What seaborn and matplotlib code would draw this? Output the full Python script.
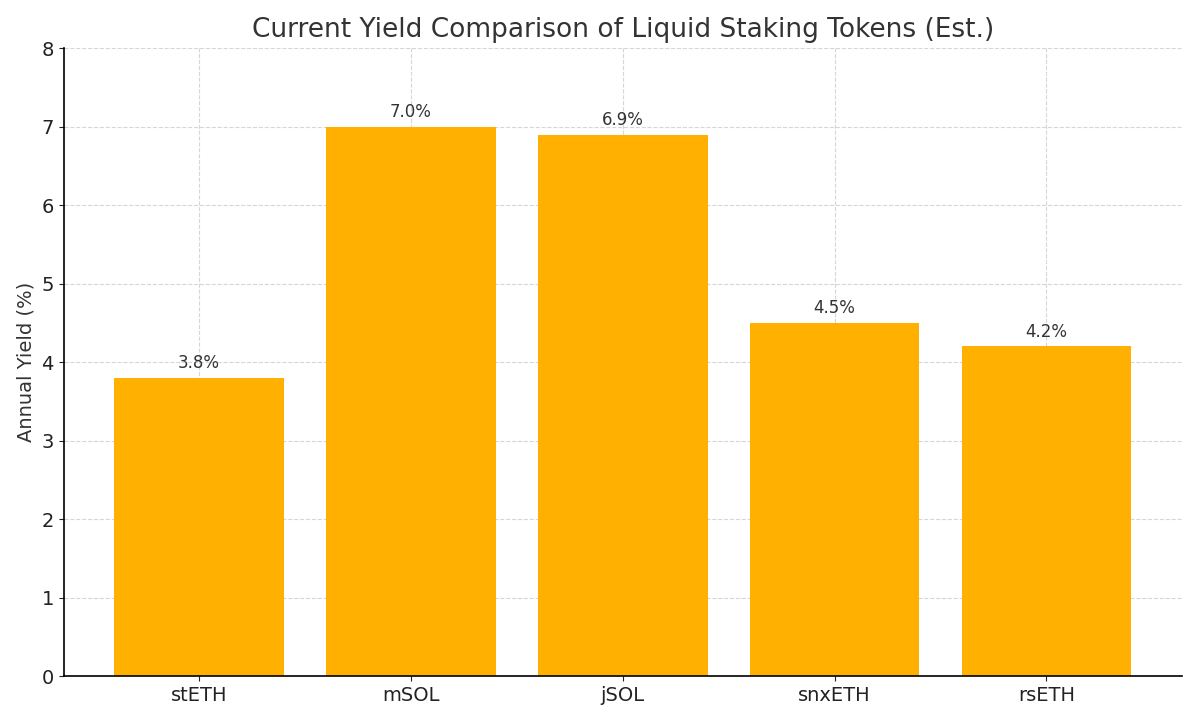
import matplotlib
matplotlib.use('Agg')
import matplotlib.pyplot as plt
import pandas as pd
import seaborn as sns

# Chart data
tokens = ['stETH', 'mSOL', 'jSOL', 'snxETH', 'rsETH']
yields = [3.8, 7.0, 6.9, 4.5, 4.2]

df = pd.DataFrame({'Token': tokens, 'Yield': yields})

sns.set_style('ticks')
plt.rcParams['font.family'] = ['DejaVu Sans']

fig, ax = plt.subplots(figsize=(12, 7.2), dpi=100)
sns.barplot(data=df, x='Token', y='Yield', color='#FFB000', saturation=1,
            width=0.8, linewidth=0, ax=ax)

# value labels above bars
for i, v in enumerate(yields):
    ax.text(i, v + 0.07, f'{v:.1f}%', ha='center', va='bottom',
            fontsize=12, color='#333333')

ax.set_ylim(0, 8)
ax.set_xlim(-0.64, len(tokens) - 1 + 0.64)
ax.set_title('Current Yield Comparison of Liquid Staking Tokens (Est.)',
             fontsize=19, color='#333333', pad=8)
ax.set_xlabel('')
ax.set_ylabel('Annual Yield (%)', fontsize=14, color='#333333')
ax.tick_params(axis='both', labelsize=14, colors='#222222')
ax.grid(True, linestyle='--', color='#cccccc', linewidth=0.8, alpha=0.8)
ax.set_axisbelow(True)
sns.despine(ax=ax)
for s in ['left', 'bottom']:
    ax.spines[s].set_color('black')
    ax.spines[s].set_linewidth(1.2)

fig.subplots_adjust(left=0.053, right=0.985, top=0.933, bottom=0.061)
fig.savefig('out.png')
